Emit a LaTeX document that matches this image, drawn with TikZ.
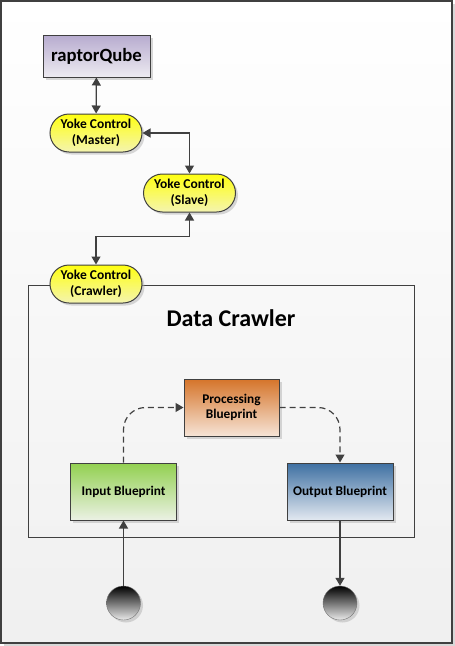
\documentclass[tikz,border=0pt]{standalone}
\usepackage{fontspec}
\setmainfont{Carlito}
\usetikzlibrary{arrows.meta,shadows,shapes.misc}
\definecolor{linegray}{HTML}{404040}
\definecolor{qubeTop}{HTML}{B7ABCF}
\definecolor{qubeBottom}{HTML}{EDEBF1}
\definecolor{yokeTop}{HTML}{FFFF10}
\definecolor{yokeBottom}{HTML}{F4F4B0}
\definecolor{procTop}{HTML}{D5742A}
\definecolor{procBottom}{HTML}{F6E4D6}
\definecolor{inTop}{HTML}{92D050}
\definecolor{inBottom}{HTML}{EBF1E4}
\definecolor{outTop}{HTML}{3E70A2}
\definecolor{outBottom}{HTML}{E2E8F0}
\begin{document}
\begin{tikzpicture}[x=1pt,y=-1pt]
        \tikzset{shadowed/.style={drop shadow={shadow xshift=2.5pt,shadow yshift=-2.5pt,fill=black!30,opacity=.5}}}
        \tikzset{box/.style={draw=linegray,line width=1pt,minimum width=106pt,minimum height=57pt,align=center,shadowed,font=\bfseries\fontsize{13.3}{15.5}\selectfont}}
        \tikzset{yoke/.style={rounded rectangle,draw=linegray,line width=1pt,minimum width=94pt,minimum height=38pt,inner sep=1pt,align=center,top color=yokeTop,bottom color=yokeBottom,shadowed,font=\bfseries\fontsize{13.5}{15.5}\selectfont}}
        \tikzset{endpoint/.style={circle,draw=black!55,minimum size=34pt,top color=black,bottom color=black!8,shadowed}}
        \tikzset{link/.style={draw=linegray,line width=1.2pt,-{Triangle[length=8pt,width=9pt]}}}
        \tikzset{flow/.style={link,dash pattern=on 6pt off 4pt,rounded corners=22pt}}
        \useasboundingbox (0,0) rectangle (455,646);
        \shade[top color=white,bottom color=black!6,draw=linegray,line width=1.5pt,shadowed] (1,1) rectangle (452,643);
        \draw[linegray,line width=1pt] (28,285) rectangle (414,537);
        \node[font=\bfseries\fontsize{24}{28}\selectfont] (title) at (231,318) {Data Crawler};
        \node[box,minimum height=42pt,minimum width=107pt,top color=qubeTop,bottom color=qubeBottom,font=\bfseries\fontsize{18.7}{21}\selectfont] (qube) at (96.5,56) {raptorQube};
        \node[yoke] (master) at (96,133) {Yoke Control\\(Master)};
        \node[yoke] (slave) at (189.5,193) {Yoke Control\\(Slave)};
        \node[yoke] (crawler) at (96,284) {Yoke Control\\(Crawler)};
        \node[box,minimum width=95pt,top color=procTop,bottom color=procBottom] (proc) at (231.5,407.5) {Processing\\Blueprint};
        \node[box,top color=inTop,bottom color=inBottom] (input) at (123.5,491.5) {Input Blueprint};
        \node[box,top color=outTop,bottom color=outBottom] (output) at (340,491.5) {Output Blueprint};
        \node[endpoint] (source) at (123.5,603) {};
        \node[endpoint] (sink) at (340,603) {};
        \draw[link,{Triangle[length=8pt,width=9pt]}-{Triangle[length=8pt,width=9pt]}] (qube) -- (master);
        \draw[link,{Triangle[length=8pt,width=9pt]}-{Triangle[length=8pt,width=9pt]}] (master.east) -| (slave.north);
        \draw[link,{Triangle[length=8pt,width=9pt]}-{Triangle[length=8pt,width=9pt]}] (slave.south) -- ++(0,24) -| (crawler.north);
        \draw[flow] (input.north) |- (proc.west);
        \draw[flow] (proc.east) -| (output.north);
        \draw[link] (source) -- (input);
        \draw[link] (output) -- (sink);
\end{tikzpicture}
\end{document}
